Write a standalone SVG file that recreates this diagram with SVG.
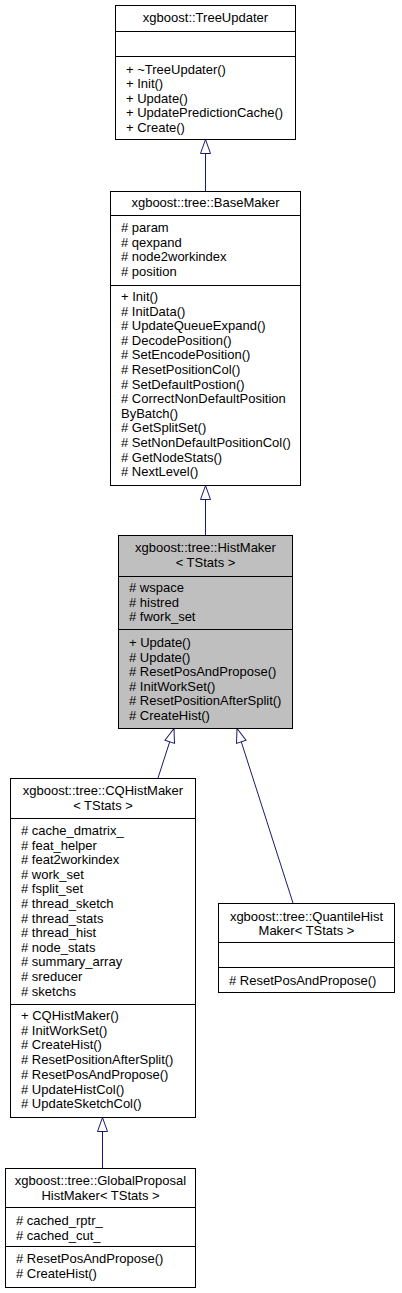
<svg xmlns="http://www.w3.org/2000/svg" width="402" height="1293" viewBox="0 0 402 1293">
<style>
text{font-family:"Liberation Sans",Arial,Helvetica,sans-serif;font-size:13px;fill:#000}
.t{text-anchor:middle}
.box{fill:#fff;stroke:#000;stroke-width:1}
.cur{fill:#bfbfbf}
.div{stroke:#000;stroke-width:1}
.edge{fill:none;stroke:#191970;stroke-width:1;marker-end:url(#inh)}
</style>
<defs>
<marker id="inh" markerUnits="userSpaceOnUse" markerWidth="16" markerHeight="12" refX="14" refY="5" orient="auto" style="overflow:visible">
<path d="M0,0 L14,5 L0,10 Z" fill="#fff" stroke="#191970" stroke-width="1"/>
</marker>
</defs>
<rect width="402" height="1293" fill="#fff"/>

<g id="connectors">
<path class="edge" d="M205.5,191 L205.5,139.5"/>
<path class="edge" d="M205.5,535 L205.5,485.5"/>
<path class="edge" d="M158,778 L174,728.5"/>
<path class="edge" d="M293,903 L237,728.5"/>
<path class="edge" d="M102.5,1168 L102.5,1117.5"/>
</g>

<g id="TreeUpdater">
<rect class="box" x="115.5" y="5.5" width="180" height="134"/>
<line class="div" x1="115.5" y1="31.5" x2="295.5" y2="31.5"/>
<line class="div" x1="115.5" y1="56.5" x2="295.5" y2="56.5"/>
<text class="t" x="205.5" y="22">xgboost::TreeUpdater</text>
<text x="126" y="73.5">+ ~TreeUpdater()</text>
<text x="126" y="88">+ Init()</text>
<text x="126" y="102.5">+ Update()</text>
<text x="126" y="117">+ UpdatePredictionCache()</text>
<text x="126" y="131.5">+ Create()</text>
</g>

<g id="BaseMaker">
<rect class="box" x="110.5" y="191.5" width="190" height="294"/>
<line class="div" x1="110.5" y1="215.5" x2="300.5" y2="215.5"/>
<line class="div" x1="110.5" y1="285.5" x2="300.5" y2="285.5"/>
<text class="t" x="205.5" y="207">xgboost::tree::BaseMaker</text>
<text x="121" y="232"># param</text>
<text x="121" y="246.6"># qexpand</text>
<text x="121" y="261.2"># node2workindex</text>
<text x="121" y="275.8"># position</text>
<text x="121" y="301">+ Init()</text>
<text x="121" y="315.6"># InitData()</text>
<text x="121" y="330.2"># UpdateQueueExpand()</text>
<text x="121" y="344.8"># DecodePosition()</text>
<text x="121" y="359.4"># SetEncodePosition()</text>
<text x="121" y="374"># ResetPositionCol()</text>
<text x="121" y="388.6"># SetDefaultPostion()</text>
<text x="121" y="403.2"># CorrectNonDefaultPosition</text>
<text x="121" y="417.8">ByBatch()</text>
<text x="121" y="432.4"># GetSplitSet()</text>
<text x="121" y="447"># SetNonDefaultPositionCol()</text>
<text x="121" y="461.6"># GetNodeStats()</text>
<text x="121" y="476.2"># NextLevel()</text>
</g>

<g id="HistMaker">
<rect class="box cur" x="118.5" y="535.5" width="174" height="193"/>
<line class="div" x1="118.5" y1="576.5" x2="292.5" y2="576.5"/>
<line class="div" x1="118.5" y1="629.5" x2="292.5" y2="629.5"/>
<text class="t" x="205.5" y="552">xgboost::tree::HistMaker</text>
<text class="t" x="205.5" y="566.6">&lt; TStats &gt;</text>
<text x="129" y="592"># wspace</text>
<text x="129" y="606.6"># histred</text>
<text x="129" y="621.2"># fwork_set</text>
<text x="129" y="647">+ Update()</text>
<text x="129" y="661.6"># Update()</text>
<text x="129" y="676.2"># ResetPosAndPropose()</text>
<text x="129" y="690.8"># InitWorkSet()</text>
<text x="129" y="705.4"># ResetPositionAfterSplit()</text>
<text x="129" y="720"># CreateHist()</text>
</g>

<g id="CQHistMaker">
<rect class="box" x="10.5" y="778.5" width="185" height="339"/>
<line class="div" x1="10.5" y1="818.5" x2="195.5" y2="818.5"/>
<line class="div" x1="10.5" y1="1004.5" x2="195.5" y2="1004.5"/>
<text class="t" x="103" y="795">xgboost::tree::CQHistMaker</text>
<text class="t" x="103" y="809.6">&lt; TStats &gt;</text>
<text x="21" y="835"># cache_dmatrix_</text>
<text x="21" y="849.6"># feat_helper</text>
<text x="21" y="864.2"># feat2workindex</text>
<text x="21" y="878.8"># work_set</text>
<text x="21" y="893.4"># fsplit_set</text>
<text x="21" y="908"># thread_sketch</text>
<text x="21" y="922.6"># thread_stats</text>
<text x="21" y="937.2"># thread_hist</text>
<text x="21" y="951.8"># node_stats</text>
<text x="21" y="966.4"># summary_array</text>
<text x="21" y="981"># sreducer</text>
<text x="21" y="995.6"># sketchs</text>
<text x="21" y="1020">+ CQHistMaker()</text>
<text x="21" y="1034.7"># InitWorkSet()</text>
<text x="21" y="1049.4"># CreateHist()</text>
<text x="21" y="1064.1"># ResetPositionAfterSplit()</text>
<text x="21" y="1078.8"># ResetPosAndPropose()</text>
<text x="21" y="1093.5"># UpdateHistCol()</text>
<text x="21" y="1108.2"># UpdateSketchCol()</text>
</g>

<g id="QuantileHistMaker">
<rect class="box" x="218.5" y="903.5" width="176" height="89"/>
<line class="div" x1="218.5" y1="942.5" x2="394.5" y2="942.5"/>
<line class="div" x1="218.5" y1="967.5" x2="394.5" y2="967.5"/>
<text class="t" x="306.5" y="920.5">xgboost::tree::QuantileHist</text>
<text class="t" x="306.5" y="935">Maker&lt; TStats &gt;</text>
<text x="229" y="985"># ResetPosAndPropose()</text>
</g>

<g id="GlobalProposalHistMaker">
<rect class="box" x="5.5" y="1168.5" width="190" height="119"/>
<line class="div" x1="5.5" y1="1207.5" x2="195.5" y2="1207.5"/>
<line class="div" x1="5.5" y1="1246.5" x2="195.5" y2="1246.5"/>
<text class="t" x="100.5" y="1185">xgboost::tree::GlobalProposal</text>
<text class="t" x="100.5" y="1199.6">HistMaker&lt; TStats &gt;</text>
<text x="16" y="1225"># cached_rptr_</text>
<text x="16" y="1239.6"># cached_cut_</text>
<text x="16" y="1263"># ResetPosAndPropose()</text>
<text x="16" y="1277.6"># CreateHist()</text>
</g>
</svg>
